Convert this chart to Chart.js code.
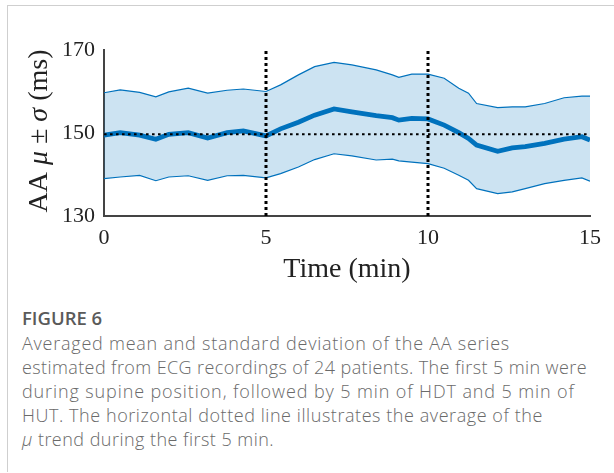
<!DOCTYPE html>
<html>
<head>
<meta charset="utf-8">
<script src="https://cdn.jsdelivr.net/npm/chart.js@4.4.1/dist/chart.umd.min.js"></script>
<style>
    body { margin: 0; background: #fff; }
    #frame {
        position: absolute; left: 7px; top: 5px; width: 607px; height: 466px;
        border-top: 1px solid #cfcfcf; border-left: 1px solid #cfcfcf;
    }
    #chartBox { position: absolute; left: 0; top: 0; width: 614px; height: 290px; }
    #caption {
        position: absolute; left: 22px; top: 306px; width: 592px;
        font-family: "Open Sans", sans-serif; color: #6a6a6a; white-space: nowrap;
    }
    #caption .fig { font-size: 18.5px; font-weight: 600; color: #5a5a5a; line-height: 24px; margin-bottom: 1px; }
    #caption .ln { font-size: 18px; font-weight: 300; line-height: 24px; }
    #caption .ln span { display: inline-block; }
</style>
</head>
<body>
<div id="frame"></div>
<div id="chartBox"><canvas id="aaChart" width="614" height="290"></canvas></div>
<div id="caption">
    <div class="fig">FIGURE 6</div>
    <div class="ln" data-end="510"><span>Averaged mean and standard deviation of the AA series</span></div>
    <div class="ln" data-end="587"><span>estimated from ECG recordings of 24 patients. The first 5 min were</span></div>
    <div class="ln" data-end="575"><span>during supine position, followed by 5 min of HDT and 5 min of</span></div>
    <div class="ln" data-end="543"><span>HUT. The horizontal dotted line illustrates the average of the</span></div>
    <div class="ln" data-end="274"><span><i>μ</i> trend during the first 5 min.</span></div>
</div>
<script>
// tiempos (min) y valores
const timeMin = [0, 0.5, 1.1, 1.6, 2.0, 2.6, 3.2, 3.8, 4.3, 5.0,
    5.45, 6.0, 6.5, 7.1, 7.65, 8.4, 8.9, 9.1, 9.5, 10.0,
    10.5, 10.95, 11.25, 11.5, 12.15, 12.6, 13.0, 13.6, 14.2, 14.75, 15.0];
const meanAA = [149.5, 150.1, 149.5, 148.5, 149.7, 150.1, 148.8, 150.1, 150.5, 149.3,
    151.0, 152.6, 154.3, 155.8, 155.1, 154.2, 153.7, 153.1, 153.5, 153.4,
    151.9, 150.1, 148.7, 147.1, 145.6, 146.4, 146.7, 147.5, 148.5, 149.1, 148.3];
const upperAA = [159.7, 160.4, 159.8, 158.7, 159.9, 160.8, 159.6, 160.3, 160.6, 160.0,
    161.6, 164.0, 166.0, 167.0, 166.4, 165.2, 164.0, 163.4, 164.2, 164.2,
    163.2, 160.8, 159.6, 157.1, 156.1, 156.3, 156.3, 157.1, 158.5, 158.9, 158.9];
const lowerAA = [139.0, 139.4, 139.8, 138.5, 139.4, 139.7, 138.6, 139.7, 139.8, 139.2,
    140.2, 141.8, 143.6, 145.0, 144.5, 143.5, 143.7, 143.3, 143.0, 142.6,
    141.5, 139.8, 138.6, 136.6, 135.4, 135.8, 136.6, 137.8, 138.6, 139.2, 138.4];
const phaseLimits = [5, 10];
const baselineMean = 149.7;
const xTicks = [0, 5, 10, 15];
const yTicks = [130, 150, 170];

const blue = '#0072BD';
const toPts = (arr) => arr.map((v, i) => ({ x: timeMin[i], y: v }));

// ajustar el espaciado de cada linea del pie de figura al ancho original
document.querySelectorAll('#caption .ln').forEach(ln => {
    const span = ln.querySelector('span');
    const target = +ln.dataset.end - 22;
    const chars = span.textContent.length;
    const ls = (target - span.getBoundingClientRect().width) / chars;
    span.style.letterSpacing = ls.toFixed(2) + 'px';
});

// titulo del eje Y con letras griegas en cursiva
const yTitlePlugin = {
    id: 'yTitle',
    afterDraw(chart) {
        const ctx = chart.ctx;
        const parts = [['AA ', false], ['μ', true], [' ± ', false], ['σ', true], [' (ms)', false]];
        const size = 28;
        let total = 0;
        parts.forEach(p => {
            ctx.font = (p[1] ? 'italic ' : '') + size + 'px "Liberation Serif"';
            total += ctx.measureText(p[0]).width;
        });
        ctx.save();
        ctx.translate(47, 131);
        ctx.rotate(-Math.PI / 2);
        ctx.fillStyle = '#222';
        ctx.textBaseline = 'alphabetic';
        let x = -total / 2;
        parts.forEach(p => {
            ctx.font = (p[1] ? 'italic ' : '') + size + 'px "Liberation Serif"';
            ctx.fillText(p[0], x, 0);
            x += ctx.measureText(p[0]).width;
        });
        ctx.restore();
    }
};

const ctx = document.getElementById('aaChart').getContext('2d');
new Chart(ctx, {
    type: 'line',
    data: {
        datasets: [
            {
                label: 'fase1', data: [{ x: phaseLimits[0], y: yTicks[0] }, { x: phaseLimits[0], y: yTicks[2] }],
                borderColor: '#000', borderWidth: 3, borderDash: [3, 3], pointRadius: 0, order: 0
            },
            {
                label: 'fase2', data: [{ x: phaseLimits[1], y: yTicks[0] }, { x: phaseLimits[1], y: yTicks[2] }],
                borderColor: '#000', borderWidth: 3, borderDash: [3, 3], pointRadius: 0, order: 1
            },
            {
                label: 'promedio', data: [{ x: xTicks[0], y: baselineMean }, { x: xTicks[3], y: baselineMean }],
                borderColor: '#000', borderWidth: 2.2, borderDash: [2.6, 3.4], pointRadius: 0, order: 2
            },
            {
                label: 'mu', data: toPts(meanAA),
                borderColor: blue, borderWidth: 4.8, pointRadius: 0, tension: 0, order: 3
            },
            {
                label: 'mu+sigma', data: toPts(upperAA),
                borderColor: blue, borderWidth: 1.2, pointRadius: 0, tension: 0,
                fill: { target: 5 }, backgroundColor: 'rgba(0, 114, 189, 0.2)', order: 4
            },
            {
                label: 'mu-sigma', data: toPts(lowerAA),
                borderColor: blue, borderWidth: 1.2, pointRadius: 0, tension: 0, order: 5
            }
        ]
    },
    options: {
        responsive: false,
        animation: false,
        devicePixelRatio: 1,
        layout: { padding: { top: 50, right: 24, left: 0, bottom: 0 } },
        plugins: {
            legend: { display: false },
            tooltip: { enabled: false }
        },
        scales: {
            x: {
                type: 'linear', min: 0, max: 15,
                afterBuildTicks: (s) => { s.ticks = xTicks.map(v => ({ value: v })); },
                afterFit: (s) => { s.height = 74; },
                grid: { display: false, drawTicks: false },
                border: { display: true, color: '#444', width: 2 },
                ticks: { padding: 9, color: '#222', font: { family: 'Liberation Serif', size: 22 } },
                title: {
                    display: true, text: 'Time (min)', color: '#222',
                    font: { family: 'Liberation Serif', size: 28 }, padding: { top: 0, bottom: 4 }
                }
            },
            y: {
                min: 130, max: 170,
                afterBuildTicks: (s) => { s.ticks = yTicks.map(v => ({ value: v })); },
                afterFit: (s) => { s.width = 104; },
                grid: { display: false, drawTicks: false },
                border: { display: true, color: '#444', width: 2 },
                ticks: { padding: 9, color: '#222', font: { family: 'Liberation Serif', size: 22 } }
            }
        }
    },
    plugins: [yTitlePlugin]
});
</script>
</body>
</html>
